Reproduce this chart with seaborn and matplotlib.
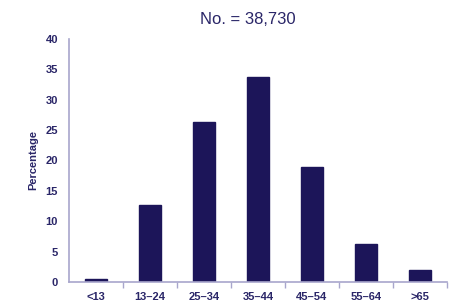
import matplotlib
matplotlib.use("Agg")
import matplotlib.pyplot as plt
import seaborn as sns
import pandas as pd
import numpy as np

categories = ["<13", "13–24", "25–34", "35–44", "45–54", "55–64", ">65"]
percentages = [0.5, 12.7, 26.3, 33.8, 19.0, 6.2, 2.0]
title = "No. = 38,730"
ylabel = "Percentage"
yticks = [0, 5, 10, 15, 20, 25, 30, 35, 40]

sns.set_theme(style="white")
plt.rcParams['font.family'] = ['Liberation Sans', 'DejaVu Sans']

navy = "#1c1559"
axis_col = "#a8a6cc"
text_col = "#2a2668"

df = pd.DataFrame({"cat": categories, "pct": percentages})

W, H = 467, 302
fig = plt.figure(figsize=(W / 100, H / 100), dpi=100)
fig.patch.set_facecolor("white")
ax = fig.add_axes([69 / W, (H - 282) / H, (447 - 69) / W, (282 - 39) / H])

sns.barplot(data=df, x="cat", y="pct", order=categories, color=navy,
            width=0.42, saturation=1, ax=ax)
for p in ax.patches:
    p.set_edgecolor(navy)

ax.set_xlim(-0.5, 6.5)
ax.set_ylim(0, 40)
ax.set_yticks(yticks)
ax.set_yticklabels([str(v) for v in yticks], fontsize=8, fontweight="bold", color=text_col)
ax.set_xticks(range(len(categories)))
ax.set_xticklabels(categories, fontsize=8, fontweight="bold", color=text_col)
ax.set_xticks(np.arange(0.5, 6.6, 1.0), minor=True)
ax.tick_params(axis="x", which="major", length=0, pad=7)
ax.tick_params(axis="x", which="minor", length=4, width=1, color=axis_col, direction="out")
ax.tick_params(axis="y", which="major", length=4, width=1, color=axis_col, direction="out", pad=4)
ax.tick_params(axis="x", which="minor", bottom=True)

for s in ["top", "right"]:
    ax.spines[s].set_visible(False)
for s in ["left", "bottom"]:
    ax.spines[s].set_color(axis_col)
    ax.spines[s].set_linewidth(1.2)

ax.set_xlabel("")
ax.set_ylabel(ylabel, fontsize=8, fontweight="bold", color=text_col, labelpad=5)
ax.grid(False)

fig.text(248 / W, 1 - 19 / H, title, ha="center", va="center", fontsize=12, color=text_col)

fig.savefig("out.png", dpi=100, facecolor="white")
